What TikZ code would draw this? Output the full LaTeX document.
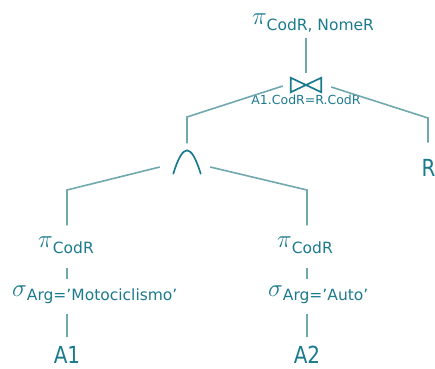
\documentclass[tikz,border=0pt]{standalone}
\usepackage{fontspec}
\setmainfont{DejaVu Sans}
\newfontfamily\narrowfont[FakeStretch=0.85]{DejaVu Sans}
\usetikzlibrary{calc}

\definecolor{opcol}{RGB}{28,122,142}
\definecolor{linkcol}{RGB}{112,168,174}

\tikzset{
  link/.style={draw=linkcol, line width=1.6pt},
  rel/.style={text=opcol, inner sep=0pt, font=\narrowfont\fontsize{23.5}{24}\selectfont},
  op/.style={text=opcol, inner sep=0pt, font=\fontsize{15.5}{16}\selectfont},
  cond/.style={text=opcol, inner sep=0pt, font=\fontsize{12.5}{13}\selectfont},
  symb/.style={draw=opcol, line width=1.7pt},
}
\newcommand{\proj}[1]{{\fontsize{27}{27}\selectfont$\pi$}\raisebox{-6pt}{#1}}
\newcommand{\sel}[1]{{\fontsize{27}{27}\selectfont$\sigma$}\raisebox{-4pt}{#1}}

\begin{document}
\begin{tikzpicture}[x=1pt,y=1pt]
  \useasboundingbox (0,0) rectangle (435,368);

  \node[op] (top) at (313,345) {\proj{CodR, NomeR}};
  \node[minimum width=30pt, minimum height=14pt, inner sep=0pt] (join) at (306,283) {};
  \draw[symb, line join=miter] (join.south west) -- (join.north west) -- (join.south east) -- (join.north east) -- cycle;
  \node[cond] (jcond) at (306,268) {A1.CodR=R.CodR};

  \node[minimum width=27pt, minimum height=23pt, inner sep=0pt] (and) at (187,206) {};
  \draw[symb, line cap=round] (and.south west) .. controls ($(and.north)+(-4,7.7)$) and ($(and.north)+(4,7.7)$) .. (and.south east);
  \node[rel] (R) at (428.5,200.5) {R};

  \node[op] (pL) at (66,123) {\proj{CodR}};
  \node[op, anchor=west] (sL) at (12,73) {\sel{Arg=’Motociclismo’}};
  \node[rel] (aL) at (67,13) {A1};
  \node[op] (pR) at (305,123) {\proj{CodR}};
  \node[op, anchor=west] (sR) at (268,73) {\sel{Arg=’Auto’}};
  \node[rel] (aR) at (307,13) {A2};

  \coordinate (kA) at (187,251);
  \coordinate (kB) at (428,250);
  \coordinate (kC) at (67,178);
  \coordinate (kD) at (307,178);

  \draw[link] ($(top.south -| join)+(0,-6)$) -- ($(join.north)+(0,5)$);
  \draw[link] ($(join.west)+(-8,-1)$) -- (kA) -- ($(and.north)+(0,7)$);
  \draw[link] ($(join.east)+(10,-2)$) -- (kB) -- ($(R.north -| kB)+(0,16)$);
  \draw[link] ($(and.west)+(-13.5,-5)$) -- (kC) -- ($(kC |- pL.north)+(0,11)$);
  \draw[link] ($(and.east)+(9.5,-5)$) -- (kD) -- ($(kD |- pR.north)+(0,11)$);

  \draw[link] ($(pL.south -| aL)+(0,-14)$) -- ($(sL.north -| aL)+(0,7)$);
  \draw[link] ($(sL.south -| aL)+(0,-10)$) -- ($(aL.north)+(0,9)$);
  \draw[link] ($(pR.south -| aR)+(0,-14)$) -- ($(sR.north -| aR)+(0,7)$);
  \draw[link] ($(sR.south -| aR)+(0,-10)$) -- ($(aR.north)+(0,9)$);
\end{tikzpicture}
\end{document}
